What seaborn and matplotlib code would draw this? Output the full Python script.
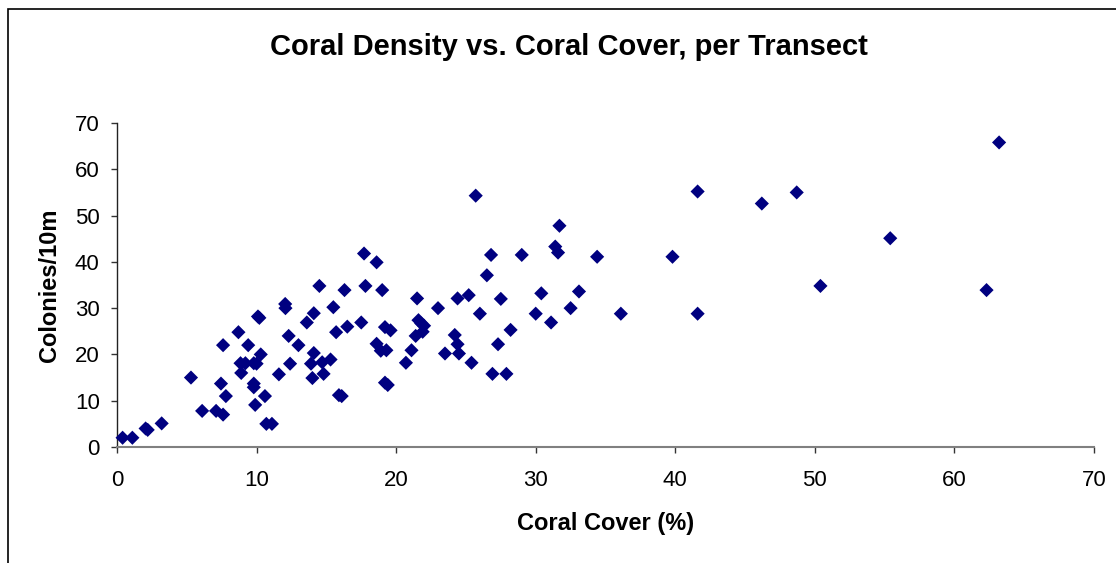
import matplotlib
matplotlib.use("Agg")
import matplotlib.pyplot as plt
import matplotlib.patches as mpatches
import seaborn as sns
import pandas as pd

coral_cover = [0.4, 1.1, 2.05, 2.2, 3.2, 5.3, 6.1, 7.1, 7.6, 7.45, 7.6, 7.8, 8.7, 9.4, 8.85, 8.9,
               9.2, 9.8, 10.0, 9.8, 9.8, 9.9, 10.1, 10.2, 10.3, 10.6, 10.7, 11.1, 11.6, 12.05,
               12.07, 12.3, 12.4, 13.0, 13.6, 14.0, 13.9, 14.1, 14.1, 14.5, 14.7, 14.8, 15.3,
               15.5, 15.7, 15.9, 16.1, 16.3, 16.5, 17.5, 17.7, 17.8, 18.6, 18.6, 18.9, 19.0,
               19.2, 19.3, 19.6, 19.2, 19.4, 20.7, 21.1, 21.4, 21.5, 21.6, 21.8, 21.9, 22.0,
               23.0, 23.5, 24.2, 24.4, 24.4, 24.5, 25.2, 25.4, 25.7, 26.0, 26.5, 26.8, 26.9,
               27.3, 27.5, 27.9, 28.2, 29.0, 30.0, 30.4, 31.1, 31.4, 31.6, 31.7, 32.5, 33.1,
               34.4, 36.1, 39.8, 41.6, 41.6, 46.2, 48.7, 50.4, 55.4, 62.3, 63.2]
colonies = [2.0, 2.0, 4.0, 3.7, 5.1, 15.0, 7.8, 7.8, 7.0, 13.7, 22.0, 11.0, 24.8, 22.0, 18.1, 16.0,
            18.1, 18.1, 18.0, 13.7, 12.9, 9.1, 28.2, 27.9, 20.0, 11.0, 5.0, 5.0, 15.7, 30.9,
            30.0, 24.0, 18.0, 22.0, 26.9, 14.9, 18.0, 28.9, 20.3, 34.8, 18.3, 15.8, 18.9,
            30.2, 24.8, 11.2, 11.0, 33.9, 26.0, 26.9, 41.8, 34.8, 39.9, 22.3, 20.8, 33.9,
            25.9, 20.9, 25.2, 13.9, 13.4, 18.2, 20.9, 24.0, 32.1, 27.4, 26.7, 24.9, 26.2,
            30.0, 20.2, 24.2, 32.1, 22.2, 20.2, 32.8, 18.2, 54.3, 28.8, 37.1, 41.5, 15.8,
            22.2, 32.0, 15.8, 25.3, 41.5, 28.8, 33.2, 26.9, 43.3, 42.0, 47.8, 30.0, 33.6,
            41.1, 28.8, 41.1, 55.2, 28.8, 52.6, 55.0, 34.8, 45.1, 33.9, 65.8]
x_ticks = [0, 10, 20, 30, 40, 50, 60, 70]
y_ticks = [0, 10, 20, 30, 40, 50, 60, 70]

df = pd.DataFrame({"Coral Cover (%)": coral_cover, "Colonies/10m": colonies})

sns.set_style("white")
plt.rcParams["font.family"] = ["Liberation Sans", "DejaVu Sans"]
plt.rcParams["text.color"] = "black"
plt.rcParams["axes.labelcolor"] = "black"
plt.rcParams["xtick.color"] = "black"
plt.rcParams["ytick.color"] = "black"

W, H = 1116, 563
fig = plt.figure(figsize=(W / 100, H / 100), dpi=100)
ax = fig.add_axes([117 / W, 1 - 447 / H, (1094 - 117) / W, (447 - 123) / H])

sns.scatterplot(data=df, x="Coral Cover (%)", y="Colonies/10m", ax=ax,
                marker="D", s=52, color="#000080", edgecolor="none", linewidth=0,
                clip_on=False, zorder=3)

ax.set_xlim(0, 70)
ax.set_ylim(0, 70)
ax.set_xticks(x_ticks)
ax.set_yticks(y_ticks)
ax.set_xticklabels([str(t) for t in x_ticks])
ax.set_yticklabels([str(t) for t in y_ticks])

for s in ["top", "right"]:
    ax.spines[s].set_visible(False)
ax.spines["left"].set_color("#222222")
ax.spines["left"].set_linewidth(1.0)
ax.spines["bottom"].set_color("#808080")
ax.spines["bottom"].set_linewidth(1.5)

ax.tick_params(axis="y", direction="out", length=4.5, width=1, color="#333333",
               labelsize=16, labelcolor="black", pad=8, left=True)
ax.tick_params(axis="x", direction="out", length=4.5, width=1, color="#333333",
               labelsize=16, labelcolor="black", pad=12, bottom=True)

ax.set_xlabel("Coral Cover (%)", fontsize=17, fontweight="bold", labelpad=15, color="black")
ax.set_ylabel("Colonies/10m", fontsize=17, fontweight="bold", labelpad=10, color="black")

fig.text(569 / W, 1 - 47 / H, "Coral Density vs. Coral Cover, per Transect",
         ha="center", va="center", fontsize=21, fontweight="bold", color="black")

# outer chart-area border (left and top visible)
fig.patches.append(mpatches.Rectangle((8 / W, -0.1), 1.2, 1 - 9 / H + 0.1,
                                      transform=fig.transFigure, fill=False,
                                      edgecolor="black", linewidth=1.2))

fig.savefig("out.png", dpi=100)
